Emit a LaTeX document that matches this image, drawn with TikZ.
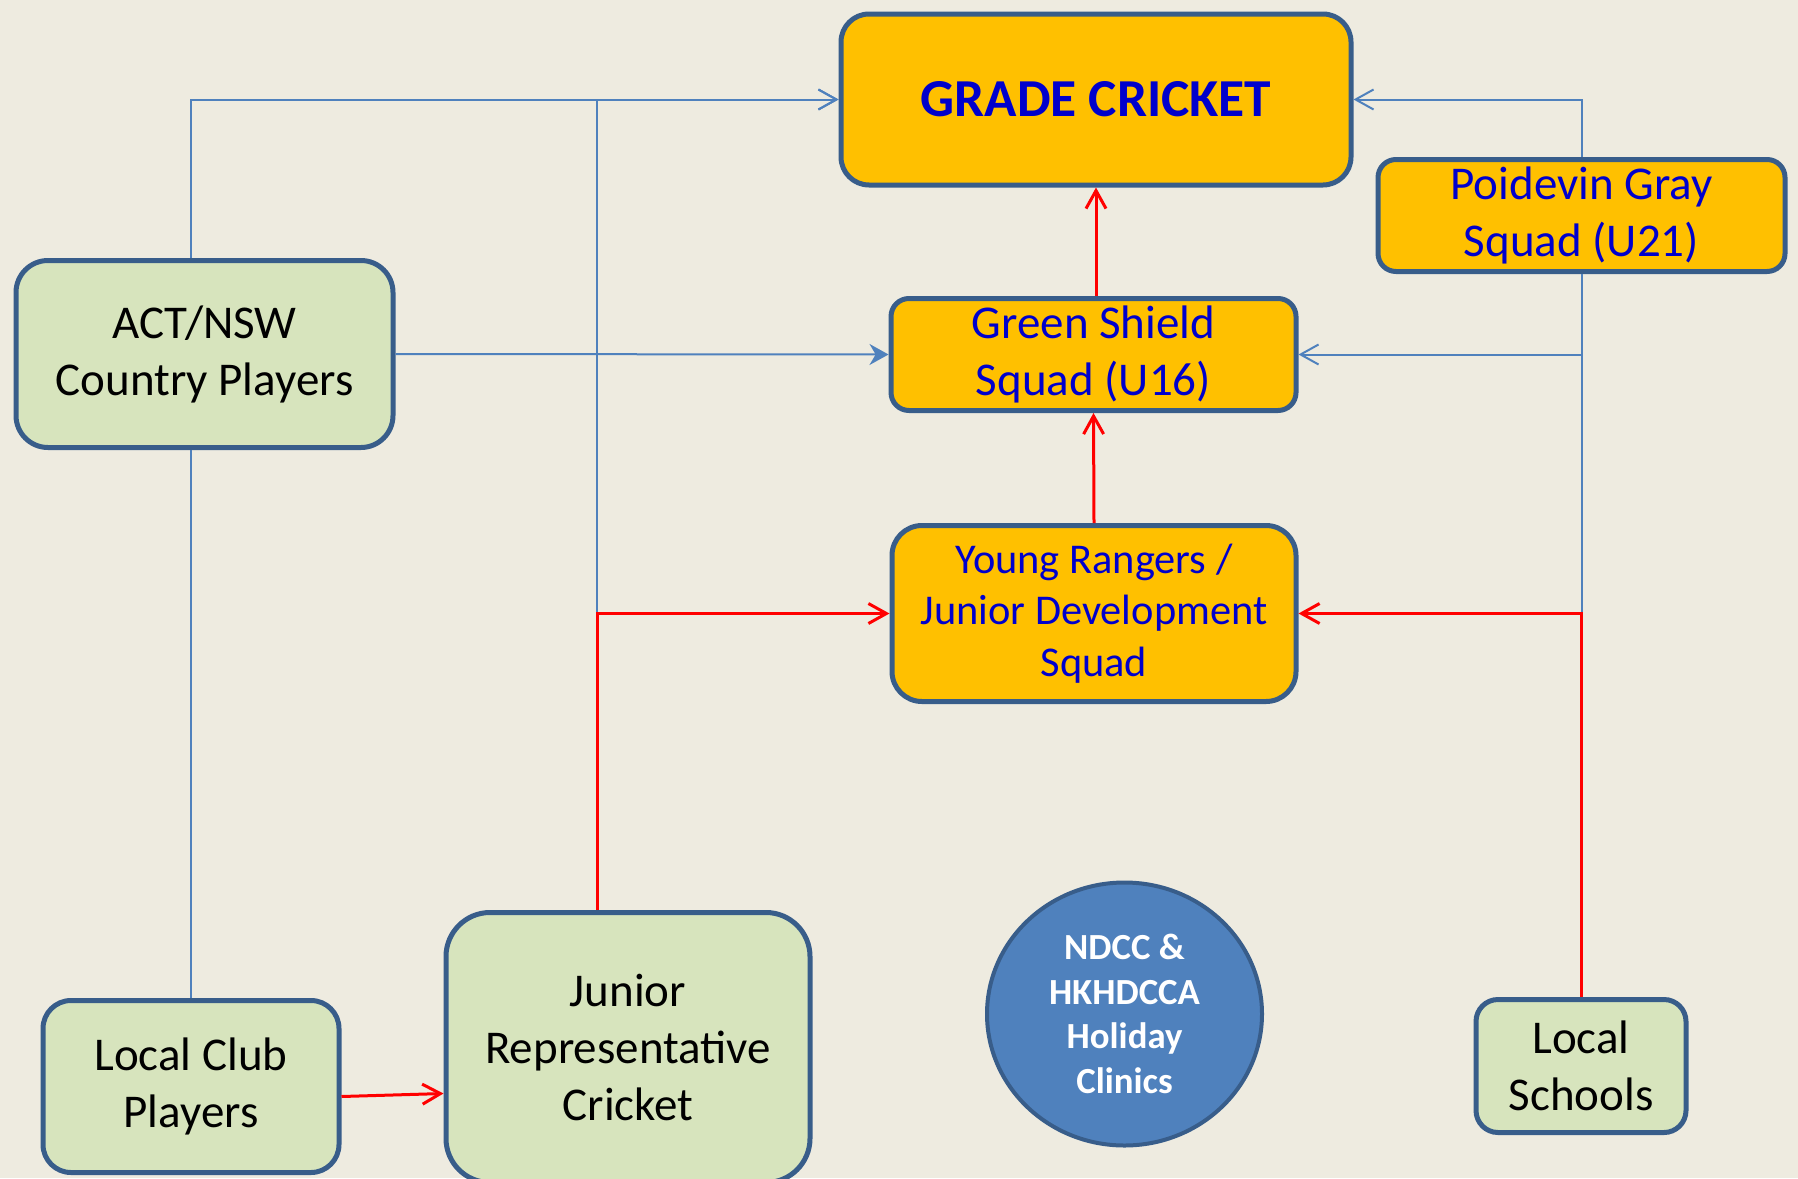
\documentclass[tikz,border=0pt]{standalone}
\usepackage{fontspec}
\setmainfont{Carlito}
\usetikzlibrary{arrows.meta,shapes.geometric}

\definecolor{paper}{RGB}{238,235,224}
\definecolor{boxedge}{RGB}{56,93,138}
\definecolor{gradeorange}{RGB}{255,192,0}
\definecolor{playergreen}{RGB}{215,228,189}
\definecolor{linkblue}{RGB}{79,129,189}
\definecolor{squadblue}{RGB}{0,0,204}

\begin{document}
\begin{tikzpicture}[x=0.5pt, y=-0.5pt,
  >={Straight Barb[length=9pt,width=10pt]},
  box/.style={draw=boxedge, line width=2.5pt, inner sep=0pt, align=center},
  squadbox/.style={box, fill=gradeorange, text=squadblue},
  playerbox/.style={box, fill=playergreen, text=black},
  bigtext/.style={font=\fontsize{23.5}{28.5}\selectfont},
  blueline/.style={draw=linkblue, line width=1pt},
  redline/.style={draw=red, line width=1.5pt}]
\fill[paper] (0,0) rectangle (1798,1178);
\useasboundingbox (0,0) rectangle (1798,1178);

\node[squadbox, minimum width=255pt, minimum height=85.5pt, rounded corners=14pt, font=\bfseries\fontsize{26.7}{32}\selectfont] (grade) at (1096,99.5) {GRADE CRICKET};
\node[squadbox, bigtext, minimum width=203.5pt, minimum height=56pt, rounded corners=9pt] (poidevin) at (1581.5,215.5) {Poidevin Gray\\Squad (U21)};
\node[squadbox, bigtext, minimum width=202.5pt, minimum height=56pt, rounded corners=9pt] (green) at (1093.5,354.5) {Green Shield\\Squad (U16)};
\node[squadbox, minimum width=202pt, minimum height=88pt, rounded corners=15pt, font=\fontsize{21.2}{25.8}\selectfont] (young) at (1094,613.5) {Young Rangers /\\Junior Development\\Squad};
\node[playerbox, bigtext, minimum width=188.5pt, minimum height=93.5pt, rounded corners=16pt] (act) at (204.5,354) {ACT/NSW\\Country Players};
\node[playerbox, bigtext, minimum width=148pt, minimum height=86pt, rounded corners=14pt] (localclub) at (191,1086.5) {Local Club\\Players};
\node[playerbox, bigtext, minimum width=182pt, minimum height=135pt, rounded corners=22pt] (junior) at (628,1047.5) {Junior\\Representative\\Cricket};
\node[playerbox, bigtext, minimum width=105pt, minimum height=66.5pt, rounded corners=11pt] (schools) at (1581,1066) {Local\\Schools};
\node[ellipse, draw=boxedge, line width=2pt, fill=linkblue, text=white, inner sep=0pt, align=center, minimum width=137.5pt, minimum height=131.5pt, font=\bfseries\fontsize{18.4}{22.4}\selectfont] (clinics) at (1124.5,1014) {NDCC \&\\HKHDCCA\\Holiday\\Clinics};

% blue pathways
\draw[blueline, ->] (localclub.north |- act.north) |- (grade.west);
\draw[blueline] (localclub.north) -- (localclub.north |- act.south);
\draw[blueline, ->] ([xshift=-15.5pt]junior.north) |- (grade.west);
\draw[blueline, -{Stealth[length=9.5pt,width=10.5pt]}] (act.east) -- (green.west);
\draw[blueline, ->] (poidevin.north) |- (grade.east);
\draw[blueline, ->] (poidevin.south) |- (green.east);
\draw[blueline] (poidevin.south) -- (poidevin.south |- young.east);

% red pathways
\draw[redline, ->] ([xshift=-15.5pt]junior.north) |- (young.west);
\draw[redline, ->] (schools.north) |- (young.east);
\draw[redline, ->] (young.north) -- (green.south);
\draw[redline, ->] (grade.south |- green.north) -- (grade.south);
\draw[redline, ->] ([yshift=-5pt]localclub.east) -- ([yshift=-23pt]junior.west);
\end{tikzpicture}
\end{document}
